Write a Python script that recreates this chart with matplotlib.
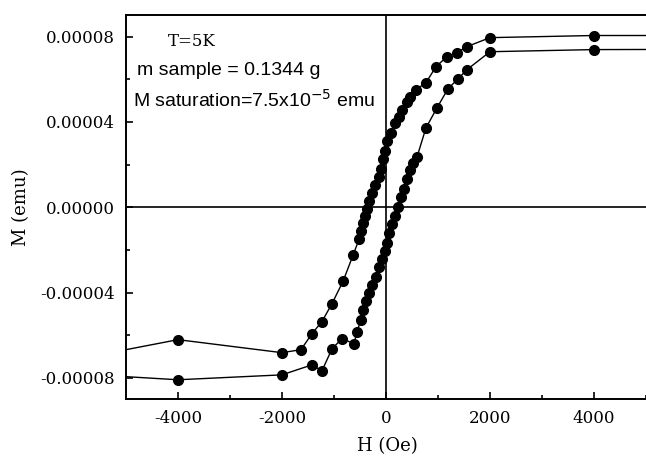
import numpy as np
import matplotlib
matplotlib.use("Agg")
import matplotlib.pyplot as plt
from matplotlib.ticker import MultipleLocator, FormatStrFormatter

plt.rcParams["axes.unicode_minus"] = False

# descending branch (from +H to -H), H in Oe, M in emu
h_down = [6000, 4000, 2000, 1558, 1365, 1173, 962, 769, 577, 462, 404, 308, 250, 173,
          96, 19, -19, -58, -96, -135, -212, -269, -327, -365, -404, -442, -481,
          -519, -635, -827, -1038, -1231, -1423, -1635, -2000, -4000, -6000]
m_down = [8.05e-5, 8.05e-5, 7.95e-5, 7.53e-5, 7.25e-5, 7.06e-5, 6.59e-5, 5.84e-5,
          5.51e-5, 5.18e-5, 4.94e-5, 4.56e-5, 4.24e-5, 3.95e-5, 3.48e-5, 3.11e-5,
          2.64e-5, 2.26e-5, 1.79e-5, 1.41e-5, 1.04e-5, 0.66e-5, 0.28e-5, -0.09e-5,
          -0.42e-5, -0.75e-5, -1.13e-5, -1.51e-5, -2.26e-5, -3.48e-5, -4.52e-5,
          -5.36e-5, -5.93e-5, -6.68e-5, -6.82e-5, -6.21e-5, -7.15e-5]

# ascending branch (from -H to +H)
h_up = [-6000, -4000, -2000, -1423, -1231, -1038, -846, -615, -558, -481, -442, -385,
        -327, -269, -192, -135, -77, -19, 19, 58, 115, 173, 231, 288, 346, 404, 462,
        519, 596, 769, 981, 1192, 1385, 1558, 2000, 4000, 6000]
m_up = [-7.8e-5, -8.09e-5, -7.86e-5, -7.39e-5, -7.67e-5, -6.64e-5, -6.16e-5, -6.40e-5,
        -5.84e-5, -5.27e-5, -4.80e-5, -4.42e-5, -4.00e-5, -3.67e-5, -3.25e-5, -2.82e-5,
        -2.45e-5, -2.07e-5, -1.69e-5, -1.22e-5, -0.80e-5, -0.42e-5, 0.0, 0.47e-5,
        0.85e-5, 1.32e-5, 1.74e-5, 2.07e-5, 2.35e-5, 3.72e-5, 4.66e-5, 5.55e-5,
        6.02e-5, 6.45e-5, 7.29e-5, 7.39e-5, 7.40e-5]

fig = plt.figure(figsize=(6.46, 4.62), dpi=100)
ax = fig.add_axes([0.195, 0.136, 0.805, 0.831])

ax.plot(h_down, m_down, "-o", color="black", lw=1.0, ms=7)
ax.plot(h_up, m_up, "-o", color="black", lw=1.0, ms=7)
ax.axhline(0, color="black", lw=1.2)
ax.axvline(0, color="black", lw=1.2)

ax.set_xlim(-5000, 5000)
ax.set_ylim(-0.00009, 0.00009)
ax.xaxis.set_major_locator(MultipleLocator(2000))
ax.xaxis.set_minor_locator(MultipleLocator(1000))
ax.yaxis.set_major_locator(MultipleLocator(0.00004))
ax.yaxis.set_minor_locator(MultipleLocator(0.00002))
ax.yaxis.set_major_formatter(FormatStrFormatter("%.5f"))
ax.tick_params(which="both", direction="in", width=1.2, top=False, right=False)
ax.tick_params(which="major", length=5, labelsize=12, pad=8)
ax.tick_params(which="minor", length=3)
for lab in ax.get_xticklabels() + ax.get_yticklabels():
    lab.set_family("DejaVu Serif")
for s in ["left", "top", "bottom"]:
    ax.spines[s].set_linewidth(1.4)
ax.spines["right"].set_visible(False)

ax.set_xlabel("H (Oe)", family="DejaVu Serif", fontsize=13)
ax.set_ylabel("M (emu)", family="DejaVu Serif", fontsize=13)
ax.xaxis.set_label_coords(0.502, -0.10)
ax.yaxis.set_label_coords(-0.185, 0.5)

ax.text(0.081, 0.932, "T=5K", transform=ax.transAxes, family="DejaVu Serif",
        fontsize=12, va="center")
ax.text(0.021, 0.857, "m sample = 0.1344 g", transform=ax.transAxes,
        family="Liberation Sans", fontsize=14, va="center")
ax.text(0.013, 0.779, "M saturation=7.5x10$^{-5}$ emu", transform=ax.transAxes,
        family="Liberation Sans", fontsize=14, va="center")

fig.savefig("out.png", dpi=100)
